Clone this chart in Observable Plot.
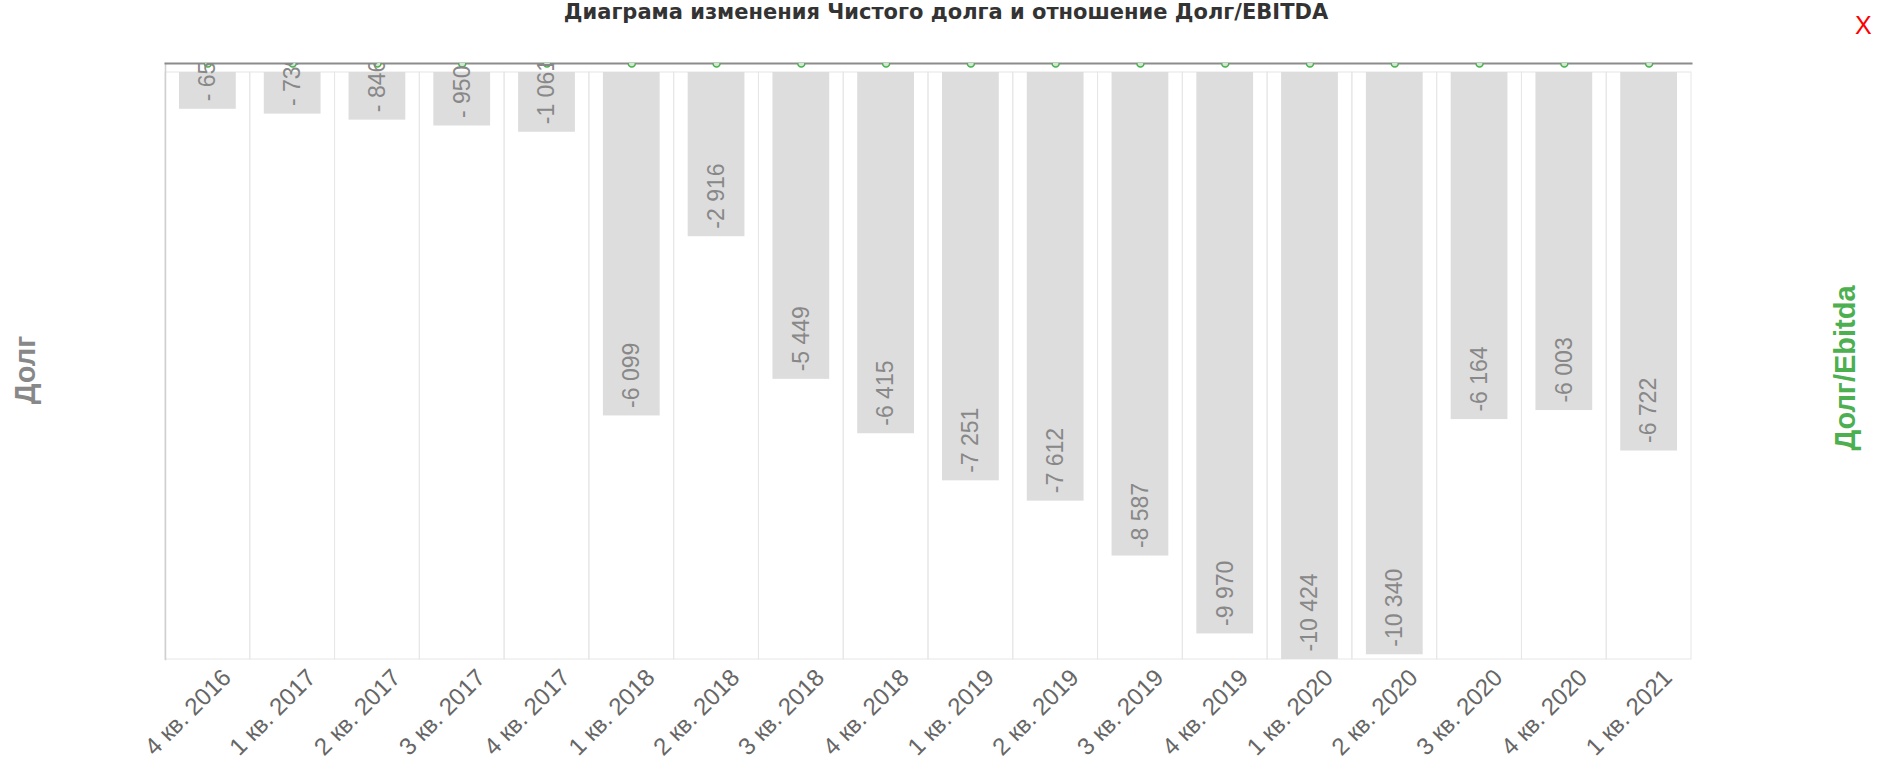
<!DOCTYPE html>
<html>
<head>
<meta charset="utf-8">
<script src="https://cdn.jsdelivr.net/npm/d3@7"></script>
<script src="https://cdn.jsdelivr.net/npm/@observablehq/plot@0.6"></script>
<style>
  html, body { margin: 0; padding: 0; background: #fff; }
  #wrap { position: relative; width: 1877px; height: 773px; overflow: hidden; font-family: "Liberation Sans", Arial, sans-serif; }
  #title { position: absolute; top: 0; left: 0; width: 1892px; text-align: center; font-family: "DejaVu Sans", sans-serif; font-weight: bold; font-size: 21px; color: #333; line-height: 24.6px; }
  #close { position: absolute; left: 1855px; top: 10px; font-size: 25px; color: #ff0000; line-height: 30px; }
  .ylab { position: absolute; font-weight: bold; font-size: 29px; white-space: nowrap; transform: translate(-50%, -50%) rotate(-90deg); line-height: 29px; }
  #chart { position: absolute; left: 0; top: 0; }
</style>
</head>
<body>
<div id="wrap">
  <div id="title">Диаграма изменения Чистого долга и отношение Долг/EBITDA</div>
  <div id="close">X</div>
  <div class="ylab" style="left:25px; top:370px; color:#888;">Долг</div>
  <div class="ylab" style="left:1845px; top:368px; color:#4caf50;">Долг/Ebitda</div>
  <div id="chart"></div>
</div>
<script>
const categories = [
  "4 кв. 2016", "1 кв. 2017", "2 кв. 2017", "3 кв. 2017", "4 кв. 2017",
  "1 кв. 2018", "2 кв. 2018", "3 кв. 2018", "4 кв. 2018",
  "1 кв. 2019", "2 кв. 2019", "3 кв. 2019", "4 кв. 2019",
  "1 кв. 2020", "2 кв. 2020", "3 кв. 2020", "4 кв. 2020", "1 кв. 2021"
];
const netDebt = [
  -653, -739, -846, -950, -1061,
  -6099, -2916, -5449, -6415,
  -7251, -7612, -8587, -9970,
  -10424, -10340, -6164, -6003, -6722
];

const data = categories.map((c, i) => ({ q: c, v: netDebt[i] }));
const yMin = d3.min(netDebt);

function fmt(v) {
  const a = Math.abs(v);
  const s = d3.format(",")(a).replace(/,/g, " ");
  return a < 1000 ? "- " + s : "-" + s;
}

const chart = Plot.plot({
  width: 1877,
  height: 773,
  marginTop: 63,
  marginBottom: 114,
  marginLeft: 165,
  marginRight: 186,
  style: { fontFamily: "Liberation Sans, Arial, sans-serif", background: "transparent" },
  x: { type: "band", domain: categories, padding: 0, round: false, label: null },
  y: { domain: [yMin, 0], insetTop: 9, axis: null },
  marks: [
    Plot.barY(data, { x: "q", y1: 0, y2: yMin, fill: "none", stroke: "#e6e6e6", strokeWidth: 1 }),
    Plot.barY(data, { x: "q", y: "v", fill: "#dddddd", insetLeft: 14, insetRight: 14 }),
    Plot.frame({ anchor: "left", stroke: "#d0d0d0", strokeWidth: 1.5 }),
    Plot.frame({ anchor: "top", stroke: "#8c8c8c", strokeWidth: 2 }),
    Plot.dot(data, { x: "q", frameAnchor: "top", r: 3.5, stroke: "#4caf50", fill: "#cfe9cf", strokeWidth: 1.5, clip: true }),
    Plot.text(data, {
      x: "q", y: "v", text: d => fmt(d.v), rotate: -90, textAnchor: "start",
      dy: -8, fontSize: 23, fill: "#888888", clip: true
    }),
    Plot.axisX({ tickRotate: -45, tickSize: 0, tickPadding: 14, dx: 19, fontSize: 24, fill: "#666666", label: null })
  ]
});
document.getElementById("chart").appendChild(chart);
</script>
</body>
</html>
